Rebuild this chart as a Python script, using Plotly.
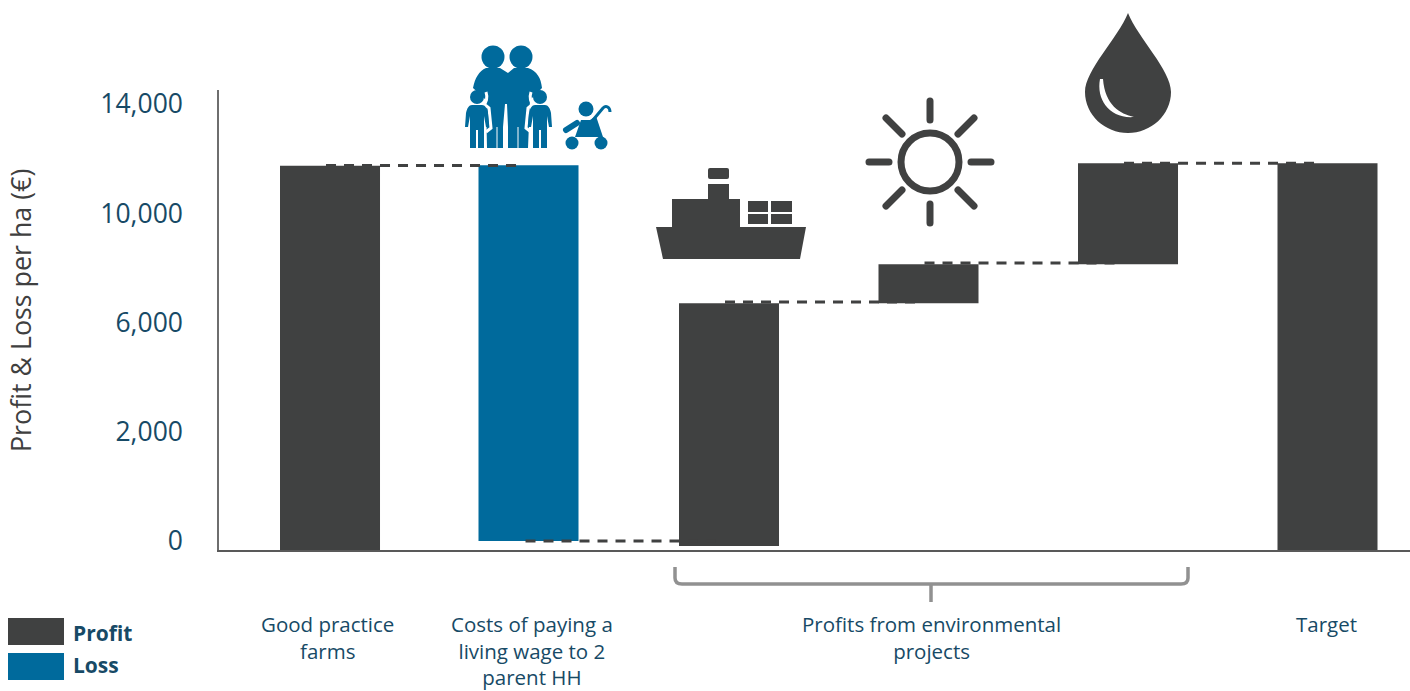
import base64
import numpy as np
import plotly.graph_objects as go

# ---------- data ----------
categories = ["Good practice farms", "Costs of paying a living wage", "Ship", "Sun", "Water", "Target"]
bar_pos = [0, 0.995, 2, 3, 4, 5]
bar_top = [11740, 11760, 6700, 8130, 11830, 11830]
bar_base = [-165, 0, -90, 6700, 8130, -165]
bar_kind = ["Profit", "Loss", "Profit", "Profit", "Profit", "Profit"]
connector_level = [11750, 0, 6750, 8180, 11830]
y_tick_values = [0, 2000, 6000, 10000, 14000]
y_tick_labels = ["0", "2,000", "6,000", "10,000", "14,000"]
group_pos = [-0.012, 1.01, 3.015, 4.995]
group_labels = ["Good practice<br>farms",
                "Costs of paying a<br>living wage to 2<br>parent HH",
                "Profits from environmental<br>projects",
                "Target"]
legend_names = ["Profit", "Loss"]

DARK = "#404141"
BLUE = "#006a9c"
TEXT = "#174a66"
W, H = 1410, 691
L, R, T, B = 219, 1410, 90, 550
FONT = "Open Sans"
colors = {"Profit": DARK, "Loss": BLUE}
ranks = list(range(len(y_tick_values)))


def to_axis(v):
    """The source axis is evenly spaced by label, not by value."""
    v = np.asarray(v, dtype=float)
    return np.where(v < 0, v / 2000, np.interp(v, y_tick_values, ranks))


def px(x):
    return (x - L) / (R - L)


def py(y):
    return (B - y) / (B - T)


fig = go.Figure()
idx = list(range(len(categories)))
tops, bases = to_axis(bar_top), to_axis(bar_base)
for kind in legend_names:
    sel = [i for i in idx if bar_kind[i] == kind]
    fig.add_bar(x=[bar_pos[i] for i in sel], y=(tops - bases)[sel], base=bases[sel], width=0.5013,
                marker=dict(color=colors[kind], line_width=0), name=kind, showlegend=False)

for i, level in enumerate(connector_level):
    yy = float(to_axis(level))
    fig.add_scatter(x=[i - 0.02, i + 0.96], y=[yy, yy], mode="lines", showlegend=False,
                    line=dict(color=DARK, width=3, dash="10px,8px"), hoverinfo="skip")


def svg_image(x0, y0, x1, y1, body):
    svg = (f'<svg xmlns="http://www.w3.org/2000/svg" width="{x1-x0}" height="{y1-y0}" '
           f'viewBox="{x0} {y0} {x1-x0} {y1-y0}">{body}</svg>')
    src = "data:image/svg+xml;base64," + base64.b64encode(svg.encode()).decode()
    return dict(source=src, xref="paper", yref="paper", x=px(x0), y=py(y0),
                sizex=(x1 - x0) / (R - L), sizey=(y1 - y0) / (B - T),
                xanchor="left", yanchor="top", sizing="stretch", layer="above")


def child(cx, side):
    # side = +1: the white outline runs down the child's right, -1: its left
    s = side
    return (f'<path d="M{cx+s*9} 92 C{cx+s*11} 98 {cx+s*9} 103 {cx+s*7} 104 L{cx+s*12} 108 L{cx+s*14} 128 L{cx+s*9} 132" '
            f'fill="none" stroke="white" stroke-width="3"/>'
            f'<circle cx="{cx}" cy="97" r="7" fill="{BLUE}"/>'
            f'<path d="M{cx-5} 105 H{cx+5} C{cx+8} 105 {cx+10} 108 {cx+11} 113 L{cx+12} 127 H{cx+9} L{cx+7} 116 '
            f'L{cx+7} 148 H{cx+1} V130 H{cx-1} V148 H{cx-7} L{cx-7} 116 L{cx-9} 127 H{cx-12} L{cx-11} 113 '
            f'C{cx-10} 108 {cx-8} 105 {cx-5} 105 Z" fill="{BLUE}"/>')


family = (
    f'<circle cx="493" cy="57" r="11.5" fill="{BLUE}"/>'
    f'<circle cx="521" cy="57" r="11.5" fill="{BLUE}"/>'
    f'<path d="M486 68 H500 L508 73 L514 68 H528 C537 71 541 78 542 88 L530 100 L528 148 H508 L508 127 '
    f'L507 104 H505 L503 127 V148 H487 L486 100 L473 88 C475 78 479 71 486 68 Z" fill="{BLUE}"/>'
    f'<path d="M497 127 V148 M518 127 V148" stroke="white" stroke-width="1" fill="none"/>'
    + child(477, 1) + child(540, -1) +
    f'<circle cx="586" cy="109" r="7.5" fill="{BLUE}"/>'
    f'<circle cx="572" cy="143" r="6.5" fill="{BLUE}"/><circle cx="601" cy="143" r="6.5" fill="{BLUE}"/>'
    f'<path d="M581 120 H590 L596 116 L603 137 H575 Z" fill="{BLUE}"/>'
    f'<path d="M566 130 L577 123" stroke="{BLUE}" stroke-width="6" stroke-linecap="round" fill="none"/>'
    f'<path d="M593 120 L603 108 C606 105 610 107 610 112" fill="none" stroke="{BLUE}" stroke-width="3"/>'
)

ship = (
    f'<g fill="{DARK}">'
    '<path d="M656 227 H806 L800 259 H663 Z"/>'
    '<path d="M672 199 H708 V184 H729 V199 H740 V228 H672 Z"/>'
    '<rect x="708" y="168" width="21" height="11" rx="2"/>'
    '<rect x="748" y="201" width="20" height="11"/><rect x="771" y="201" width="21" height="11"/>'
    '<rect x="748" y="214" width="20" height="10"/><rect x="771" y="214" width="21" height="10"/>'
    '</g>'
)

sun = (
    f'<g stroke="{DARK}" stroke-width="7" stroke-linecap="round" fill="none">'
    '<circle cx="930" cy="162" r="29" />'
    '<path d="M930 101 V120 M930 204 V223 M869 162 H889 M971 162 H991 '
    'M886 118 L902 134 M974 118 L958 134 M886 206 L902 190 M974 206 L958 190"/>'
    '</g>'
)

drop = (
    f'<path d="M1128 13 C1118 38 1085 70 1085 92 C1085 115 1105 133 1128 133 '
    f'C1151 133 1171 115 1171 92 C1171 70 1138 38 1128 13 Z" fill="{DARK}"/>'
    '<path d="M1100 79 C1096 100 1110 119 1134 117 C1120 114 1105 105 1103 79 Z" fill="white"/>'
)

images = [svg_image(462, 43, 615, 152, family), svg_image(654, 166, 808, 262, ship),
          svg_image(862, 95, 998, 229, sun), svg_image(1083, 11, 1174, 135, drop)]

shapes = [
    dict(type="path", xref="paper", yref="paper", line=dict(color="#919191", width=3.5),
         path=(f"M{px(675)},{py(567)} L{px(675)},{py(578)} Q{px(675)},{py(584)} {px(682)},{py(584)} "
               f"L{px(1181)},{py(584)} Q{px(1188)},{py(584)} {px(1188)},{py(578)} L{px(1188)},{py(567)} "
               f"M{px(931)},{py(584)} L{px(931)},{py(602)}")),
    dict(type="rect", xref="paper", yref="paper", x0=px(8), x1=px(64), y0=py(618), y1=py(645),
         fillcolor=colors["Profit"], line_width=0),
    dict(type="rect", xref="paper", yref="paper", x0=px(8), x1=px(64), y0=py(653), y1=py(680),
         fillcolor=colors["Loss"], line_width=0),
]

annotations = [
    dict(text="Profit &amp; Loss per ha (€)", textangle=-90, xref="paper", yref="paper", x=px(20), y=py(311),
         xanchor="center", yanchor="middle", showarrow=False, font=dict(family=FONT, size=26.8, color="#3f4040")),
    dict(text=f"<b>{legend_names[0]}</b>", xref="paper", yref="paper", x=px(71), y=py(633), xanchor="left",
         yanchor="middle", showarrow=False, font=dict(family=FONT, size=21, color=TEXT)),
    dict(text=f"<b>{legend_names[1]}</b>", xref="paper", yref="paper", x=px(71), y=py(665), xanchor="left",
         yanchor="middle", showarrow=False, font=dict(family=FONT, size=21, color=TEXT)),
]
for pos, label in zip(group_pos, group_labels):
    annotations.append(dict(text=label, xref="x", yref="paper", x=pos, y=py(608),
                            xanchor="center", yanchor="top", showarrow=False,
                            font=dict(family=FONT, size=20.5, color=TEXT)))

fig.update_layout(
    width=W, height=H, margin=dict(l=L, r=W - R, t=T, b=H - B),
    paper_bgcolor="white", plot_bgcolor="white", showlegend=False, barmode="overlay",
    images=images, shapes=shapes, annotations=annotations,
    xaxis=dict(range=[-0.5564, 5.4135], showticklabels=False,
               showgrid=False, zeroline=False, showline=True, linecolor="#595959", linewidth=2,
               ticks="", automargin=False),
    yaxis=dict(range=[-0.0824, 4.128], tickmode="array", tickvals=ranks, ticktext=y_tick_labels,
               showgrid=False, zeroline=False, showline=True, linecolor="#6e6e6e", linewidth=1.5,
               ticks="", ticklabelstandoff=29, automargin=False,
               tickfont=dict(family=FONT, size=26.5, color=TEXT)),
)

fig.write_html("out.html", config={"displayModeBar": False}, post_script="document.body.style.margin='0';")
